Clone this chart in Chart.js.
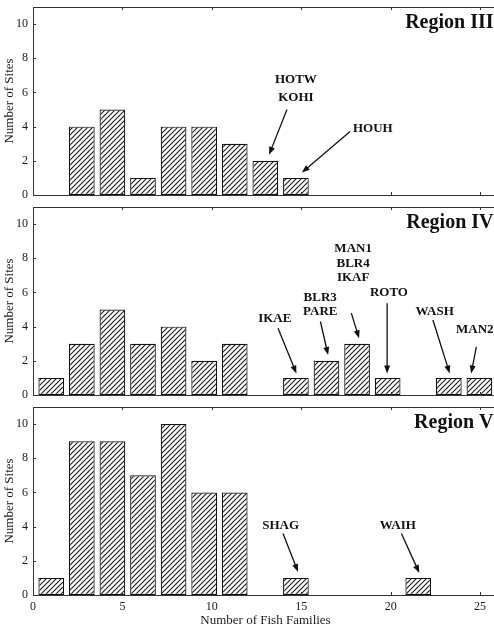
<!DOCTYPE html>
<html>
<head>
<meta charset="utf-8">
<script src="https://cdn.jsdelivr.net/npm/chart.js@4.4.0/dist/chart.umd.min.js"></script>
<style>
  html, body { margin: 0; padding: 0; background: #fff; overflow: hidden; }
  #wrap { position: relative; width: 494px; height: 630px; overflow: hidden; }
  canvas { position: absolute; left: 0; }
</style>
</head>
<body>
<div id="wrap">
  <canvas id="c3" width="500" height="200" style="top:0px"></canvas>
  <canvas id="c4" width="500" height="200" style="top:200px"></canvas>
  <canvas id="c5" width="500" height="230" style="top:400px"></canvas>
</div>
<script>
// histogram bin centres (number of fish families)
var binCenters = [1.02, 2.73, 4.44, 6.15, 7.86, 9.57, 11.28, 12.99, 14.7, 16.41, 18.12, 19.83, 21.54, 23.25, 24.96];
var xTicks = [0, 5, 10, 15, 20, 25];
var yTicks = [0, 2, 4, 6, 8, 10];

// number of sites per bin
var region3 = [null, 4, 5, 1, 4, 4, 3, 2, 1, null, null, null, null, null, null];
var region4 = [1, 3, 5, 3, 4, 2, 3, null, 1, 2, 3, 1, null, 1, 1];
var region5 = [1, 9, 9, 7, 10, 6, 6, null, 1, null, null, null, 1, null, null];

// site labels [text, x, y] and arrows [x1, y1, x2, y2] in data units
var labels3 = [['HOTW', 14.7, 6.76], ['KOHI', 14.7, 5.68], ['HOUH', 19.0, 3.9]];
var arrows3 = [[14.2, 5.0, 13.2, 2.35], [17.73, 3.72, 15.03, 1.31]];

var labels4 = [['MAN1', 17.9, 8.55], ['BLR4', 17.9, 7.7], ['IKAF', 17.9, 6.85],
    ['BLR3', 16.06, 5.67], ['PARE', 16.06, 4.88], ['IKAE', 13.52, 4.49],
    ['ROTO', 19.9, 5.96], ['WASH', 22.46, 4.88], ['MAN2', 24.7, 3.81]];
var arrows4 = [[17.8, 4.79, 18.23, 3.32], [16.07, 4.3, 16.5, 2.34], [13.7, 3.9, 14.73, 1.26],
    [19.8, 5.37, 19.8, 1.26], [22.36, 4.39, 23.3, 1.26], [24.79, 2.82, 24.5, 1.26]];

var labels5 = [['SHAG', 13.85, 4.03], ['WAIH', 20.4, 4.03]];
var arrows5 = [[13.98, 3.6, 14.82, 1.35], [20.6, 3.6, 21.6, 1.29]];

var serif = '"Liberation Serif", "DejaVu Serif", serif';
Chart.defaults.font.family = serif;
Chart.defaults.color = '#1a1a1a';

// diagonal hatching like the printed figure
function makeHatch() {
    var n = 5;
    var c = document.createElement('canvas');
    c.width = n;
    c.height = n;
    var g = c.getContext('2d');
    g.fillStyle = '#fff';
    g.fillRect(0, 0, n, n);
    g.strokeStyle = '#1a1a1a';
    g.lineWidth = 1.1;
    g.beginPath();
    g.moveTo(-1, n + 1); g.lineTo(n + 1, -1);
    g.moveTo(-1, 1); g.lineTo(1, -1);
    g.moveTo(n - 1, n + 1); g.lineTo(n + 1, n - 1);
    g.stroke();
    return g.createPattern(c, 'repeat');
}
var hatch = makeHatch();

// frame, inner ticks, region title and the arrows
var decor = {
    id: 'decor',
    afterDatasetsDraw: function (chart, args, opts) {
        var ctx = chart.ctx;
        var a = chart.chartArea;
        var xs = chart.scales.x, ys = chart.scales.y;
        ctx.save();
        ctx.strokeStyle = '#333';
        ctx.lineWidth = 1;
        ctx.strokeRect(a.left + 0.5, a.top + 0.5, a.right - a.left, a.bottom - a.top);
        ctx.beginPath();
        xTicks.forEach(function (t) {
            var px = Math.round(xs.getPixelForValue(t)) + 0.5;
            ctx.moveTo(px, a.top); ctx.lineTo(px, a.top + 3);
            ctx.moveTo(px, a.bottom); ctx.lineTo(px, a.bottom - 3);
        });
        yTicks.forEach(function (t) {
            var py = Math.round(ys.getPixelForValue(t)) + 0.5;
            ctx.moveTo(a.left, py); ctx.lineTo(a.left + 3, py);
        });
        ctx.stroke();

        ctx.fillStyle = '#111';
        ctx.font = 'bold 20px ' + serif;
        ctx.textAlign = 'right';
        ctx.textBaseline = 'middle';
        ctx.fillText(opts.title, xs.getPixelForValue(25.75), ys.getPixelForValue(10.1));

        ctx.font = 'bold 13px ' + serif;
        ctx.textAlign = 'center';
        opts.labels.forEach(function (l) {
            ctx.fillText(l[0], xs.getPixelForValue(l[1]), ys.getPixelForValue(l[2]));
        });

        ctx.strokeStyle = '#111';
        ctx.lineWidth = 1.3;
        opts.arrows.forEach(function (ar) {
            var x1 = xs.getPixelForValue(ar[0]), y1 = ys.getPixelForValue(ar[1]);
            var x2 = xs.getPixelForValue(ar[2]), y2 = ys.getPixelForValue(ar[3]);
            var ang = Math.atan2(y2 - y1, x2 - x1);
            var hl = 8, hw = 3;
            ctx.beginPath();
            ctx.moveTo(x1, y1);
            ctx.lineTo(x2 - Math.cos(ang) * hl * 0.8, y2 - Math.sin(ang) * hl * 0.8);
            ctx.stroke();
            ctx.beginPath();
            ctx.moveTo(x2, y2);
            ctx.lineTo(x2 - Math.cos(ang) * hl + Math.sin(ang) * hw, y2 - Math.sin(ang) * hl - Math.cos(ang) * hw);
            ctx.lineTo(x2 - Math.cos(ang) * hl - Math.sin(ang) * hw, y2 - Math.sin(ang) * hl + Math.cos(ang) * hw);
            ctx.closePath();
            ctx.fill();
        });
        ctx.restore();
    }
};

function makeChart(id, counts, title, labels, arrows, showX) {
    var pts = binCenters.map(function (x, i) { return { x: x, y: counts[i] }; });
    return new Chart(document.getElementById(id), {
        type: 'bar',
        data: {
            datasets: [{
                data: pts,
                backgroundColor: hatch,
                borderColor: '#111',
                borderWidth: 1.2,
                borderSkipped: false,
                barPercentage: 0.84,
                categoryPercentage: 1.0
            }]
        },
        options: {
            responsive: false,
            animation: false,
            devicePixelRatio: 1,
            layout: { padding: { top: 7, right: 2, bottom: showX ? 0 : 5, left: 0 } },
            plugins: {
                legend: { display: false },
                tooltip: { enabled: false },
                decor: { title: title, labels: labels, arrows: arrows }
            },
            scales: {
                x: {
                    type: 'linear',
                    min: 0,
                    max: 26,
                    display: showX,
                    offset: false,
                    grid: { display: false, drawTicks: false },
                    border: { display: false },
                    ticks: { stepSize: 5, padding: 5, font: { size: 12 }, maxRotation: 0 },
                    afterBuildTicks: function (s) { s.ticks = xTicks.map(function (v) { return { value: v }; }); },
                    afterFit: function (s) {
                        s.height = showX ? 35 : 0;
                        s.paddingLeft = 0;
                        s.paddingRight = 0;
                    },
                    title: { display: true, text: 'Number of Fish Families', font: { size: 13 }, padding: { top: 2, bottom: 2 } }
                },
                y: {
                    min: 0,
                    max: 11,
                    grid: { display: false, drawTicks: false },
                    border: { display: false },
                    ticks: { padding: 5, font: { size: 12 } },
                    afterBuildTicks: function (s) { s.ticks = yTicks.map(function (v) { return { value: v }; }); },
                    afterFit: function (s) {
                        s.width = 33;
                        s.paddingTop = 0;
                        s.paddingBottom = 0;
                    },
                    title: { display: true, text: 'Number of Sites', font: { size: 13 }, padding: { top: 2, bottom: 0 } }
                }
            }
        },
        plugins: [decor]
    });
}

makeChart('c3', region3, 'Region III', labels3, arrows3, false);
makeChart('c4', region4, 'Region IV', labels4, arrows4, false);
makeChart('c5', region5, 'Region V', labels5, arrows5, true);
</script>
</body>
</html>
